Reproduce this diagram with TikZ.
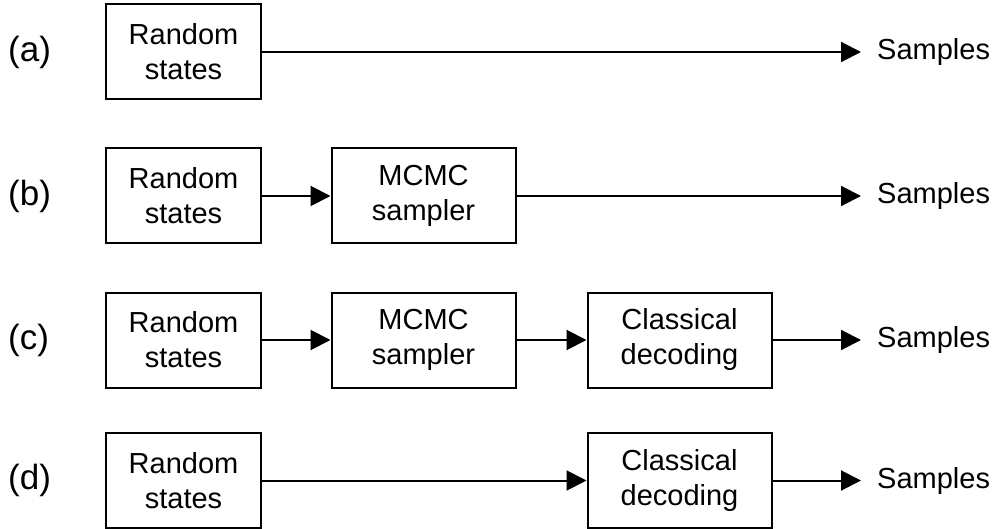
\documentclass[tikz,border=0pt]{standalone}
\usepackage{fontspec}
\setmainfont{Liberation Sans}
\usetikzlibrary{arrows.meta}
\begin{document}
\begin{tikzpicture}[x=1pt,y=-1pt,
  blk/.style={draw, line width=2pt, minimum width=155pt, minimum height=95pt,
    align=center, inner sep=0pt, font=\fontsize{29}{35}\selectfont},
  wideblk/.style={blk, minimum width=184pt},
  rowlbl/.style={anchor=west, inner sep=0pt, font=\fontsize{35}{40}\selectfont},
  outlbl/.style={anchor=west, inner xsep=16pt, inner ysep=0pt, font=\fontsize{29}{35}\selectfont},
  flow/.style={line width=2pt, -{Triangle[length=20pt,width=20pt]}}]
\useasboundingbox (0,0) rectangle (995,529);

% row (a)
\node[rowlbl] (la) at (8,52) {(a)};
\node[blk] (ra) at (183.5,52) {Random\\states};
\node[outlbl] (sa) at (861,52) {Samples};
\draw[flow] (ra.east) -- (sa.west);

% row (b)
\node[rowlbl] (lb) at (8,196) {(b)};
\node[blk] (rb) at (183.5,196) {Random\\states};
\node[wideblk] (mb) at (423.5,196) {MCMC\\sampler};
\node[outlbl] (sb) at (861,196) {Samples};
\draw[flow] (rb.east) -- (mb.west);
\draw[flow] (mb.east) -- (sb.west);

% row (c)
\node[rowlbl] (lc) at (8,340) {(c)};
\node[blk] (rc) at (183.5,340) {Random\\states};
\node[wideblk] (mc) at (423.5,340) {MCMC\\sampler};
\node[wideblk] (dc) at (679.5,340) {Classical\\decoding};
\node[outlbl] (sc) at (861,340) {Samples};
\draw[flow] (rc.east) -- (mc.west);
\draw[flow] (mc.east) -- (dc.west);
\draw[flow] (dc.east) -- (sc.west);

% row (d)
\node[rowlbl] (ld) at (8,480.5) {(d)};
\node[blk] (rd) at (183.5,480.5) {Random\\states};
\node[wideblk] (dd) at (679.5,480.5) {Classical\\decoding};
\node[outlbl] (sd) at (861,480.5) {Samples};
\draw[flow] (rd.east) -- (dd.west);
\draw[flow] (dd.east) -- (sd.west);
\end{tikzpicture}
\end{document}
